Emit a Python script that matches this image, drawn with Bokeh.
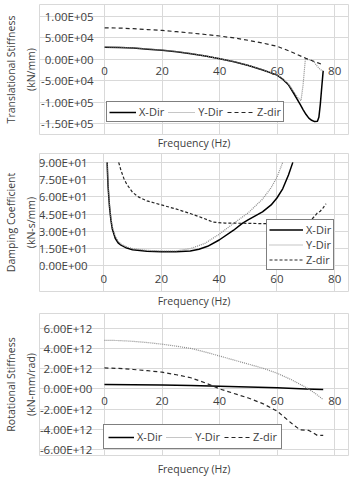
from bokeh.plotting import figure
from bokeh.models import Range1d, FixedTicker, LinearAxis
from bokeh.layouts import column
from bokeh.embed import file_html
from bokeh.resources import INLINE

# ---------------- data ----------------
x_ticks = [0, 20, 40, 60, 80]

# Panel 1: translational stiffness (kN/mm)
ts_y_ticks = [-150000, -100000, -50000, 0, 50000, 100000]
ts_y_labels = ["-1.50E+05", "-1.00E+05", "-5.00E+04", "0.00E+00", "5.00E+04", "1.00E+05"]
ts_x_freq = [0, 5, 10, 15, 20, 25, 30, 35, 40, 45, 50, 55, 60, 62, 64, 66, 68, 69, 70, 71, 72, 73, 74, 74.5, 75, 75.5, 76]
ts_x_val = [28000, 27500, 26000, 23500, 21000, 17500, 13000, 7500, 1000, -6000, -14500, -25000, -37000, -47000, -60000,
            -82000, -105000, -117000, -128000, -137000, -142000, -145000, -144000, -135000, -105000, -65000, -27000]
ts_y_freq = [0, 5, 10, 15, 20, 25, 30, 35, 40, 45, 50, 55, 60, 62, 64, 66, 67.5, 68.3, 69, 69.8, 71, 72, 73, 74, 75, 76]
ts_y_val = [28500, 28000, 26500, 24000, 21500, 18000, 13500, 8000, 1500, -5500, -14000, -24500, -36500, -46000, -58000,
            -78000, -92000, -96000, -60000, 0, -1000, -3000, -8000, -17000, -24000, -27000]
ts_z_freq = [0, 5, 10, 15, 20, 25, 30, 35, 40, 45, 50, 55, 60, 65, 70, 72, 74, 76]
ts_z_val = [73000, 72500, 71000, 69000, 67000, 64000, 61000, 57500, 54000, 49500, 44000, 37500, 30000, 17000, 2000,
            -3000, -8000, -13000]

# Panel 2: damping coefficient (kN-s/mm)
dc_y_ticks = [0, 15, 30, 45, 60, 75, 90]
dc_y_labels = ["0.00E+00", "1.50E+01", "3.00E+01", "4.50E+01", "6.00E+01", "7.50E+01", "9.00E+01"]
dc_x_freq = [1.2, 1.5, 2, 2.5, 3, 4, 5, 6, 8, 10, 15, 20, 25, 30, 33, 36, 40, 45, 48, 50, 55, 58, 60, 62, 64, 65.5]
dc_x_val = [90, 70, 52, 40, 32, 24, 20, 18, 15.5, 14, 12.8, 12.2, 12.2, 13, 14.5, 17, 22.5, 31, 37, 40, 47, 53, 59, 67, 79, 90]
dc_y_freq = [1.2, 1.5, 2, 2.5, 3, 4, 5, 6, 8, 10, 15, 20, 25, 30, 35, 40, 45, 50, 55, 58, 60, 62]
dc_y_val = [90, 72, 54, 42, 34, 26, 21.5, 19, 16.5, 15, 13.5, 13, 13, 15, 19.5, 27.5, 37, 46, 58, 68, 77, 90]
dc_z_freq = [5.2, 6, 7, 8, 10, 12, 15, 20, 25, 30, 35, 38, 42, 50, 60, 68, 70, 71.5, 73, 74, 75, 76, 77]
dc_z_val = [90, 83, 76, 71, 64, 60, 56.5, 53, 49.5, 45.5, 41, 38, 37.2, 37, 36.5, 36.7, 37.5, 39, 43, 46, 47.5, 50.5, 54]

# Panel 3: rotational stiffness (kN-mm/rad)
rs_y_ticks = [-6e12, -4e12, -2e12, 0, 2e12, 4e12, 6e12]
rs_y_labels = ["-6.00E+12", "-4.00E+12", "-2.00E+12", "0.00E+00", "2.00E+12", "4.00E+12", "6.00E+12"]
rs_x_freq = [0, 10, 20, 30, 40, 50, 60, 70, 76]
rs_x_val = [4.3e11, 4.1e11, 3.8e11, 3.3e11, 2.7e11, 2.0e11, 1.1e11, 0.0, -7e10]
rs_y_freq = [0, 5, 10, 15, 20, 25, 30, 35, 40, 45, 50, 55, 60, 65, 70, 73, 76]
rs_y_val = [4.8e12, 4.78e12, 4.7e12, 4.58e12, 4.42e12, 4.22e12, 4.0e12, 3.65e12, 3.25e12, 2.85e12, 2.45e12, 2.05e12,
            1.55e12, 0.9e12, 0.15e12, -0.4e12, -1.05e12]
rs_z_freq = [0, 5, 10, 15, 20, 25, 30, 35, 38, 40, 45, 50, 55, 60, 65, 68, 71, 74, 76]
rs_z_val = [2.07e12, 2.02e12, 1.92e12, 1.8e12, 1.65e12, 1.4e12, 1.1e12, 0.6e12, 0.25e12, 0.0, -0.45e12, -0.9e12,
            -1.45e12, -2.2e12, -3.4e12, -4.05e12, -4.1e12, -4.6e12, -4.6e12]

series_names = ["X-Dir", "Y-Dir", "Z-dir"]
x_title = "Frequency (Hz)"

# ---------------- styling ----------------
FONT = "Open Sans"
TXT = "#404040"
GRID = "#d9d9d9"
FIG_W = 351


def make_panel(height, frame, plot_px, y_data, yticks, ylabels, ytitle, ystand, xstand, xtitle_stand):
    """frame = (left, top, right, bottom) of the chart-area box in figure pixels;
    plot_px = (x_px_at_first_tick, x_px_at_last_tick, y_px_at_top_tick, y_px_at_bottom_tick)."""
    fl, ft, fr, fb = frame
    x0, x80, yt, yb = plot_px
    ylo_d, yhi_d = y_data
    sx = (x80 - x0) / (x_ticks[-1] - x_ticks[0])
    sy = (yt - yb) / (yhi_d - ylo_d)  # negative px per unit (screen y grows down)
    x_range = Range1d(x_ticks[0] - (x0 - fl) / sx, x_ticks[-1] + (fr - x80) / sx)
    y_range = Range1d(ylo_d + (fb - yb) / sy, yhi_d + (ft - yt) / sy)
    p = figure(width=FIG_W, height=height, x_range=x_range, y_range=y_range,
               output_backend="svg", toolbar_location=None,
               min_border_left=fl, min_border_right=FIG_W - fr, min_border_top=ft,
               min_border_bottom=height - fb)
    p.outline_line_color = GRID
    p.outline_line_width = 1
    p.background_fill_color = "white"
    p.border_fill_color = "white"

    xa = p.below[0]
    ya = p.left[0]
    xa.ticker = FixedTicker(ticks=x_ticks)
    ya.ticker = FixedTicker(ticks=yticks)
    ya.major_label_overrides = {float(t): l for t, l in zip(yticks, ylabels)}
    for ax in (xa, ya):
        ax.axis_line_color = None
        ax.major_tick_line_color = None
        ax.minor_tick_line_color = None
        ax.major_tick_out = 0
        ax.major_tick_in = 0
        ax.major_label_text_font = FONT
        ax.major_label_text_font_size = "11.5px"
        ax.major_label_text_color = TXT
    ya.major_label_standoff = ystand
    xa.major_label_standoff = xstand
    ya.fixed_location = 0
    xa.fixed_location = 0

    def title_axis(label, standoff, lh):
        return LinearAxis(ticker=FixedTicker(ticks=[]), axis_label=label,
                          axis_line_color=None, major_tick_line_color=None, minor_tick_line_color=None,
                          major_tick_out=0, major_tick_in=0, major_label_text_font_size="0px",
                          major_label_standoff=0, axis_label_standoff=standoff,
                          axis_label_text_font=FONT, axis_label_text_font_size="10.5px",
                          axis_label_text_font_style="normal", axis_label_text_color=TXT,
                          axis_label_text_line_height=lh)

    p.add_layout(title_axis(ytitle, 2, 1.4), "left")
    p.add_layout(title_axis(x_title, xtitle_stand, 1.2), "below")

    p.xgrid.grid_line_color = GRID
    p.ygrid.grid_line_color = GRID
    p.xgrid.ticker = FixedTicker(ticks=x_ticks)
    p.ygrid.ticker = FixedTicker(ticks=yticks)
    p.xgrid.bounds = (ylo_d, yhi_d)
    p.ygrid.bounds = (x_ticks[0], x_ticks[-1])
    return p


def style_legend(p, loc, orientation, gw, pad, lh, spacing):
    lg = p.legend[0]
    lg.location = loc
    lg.orientation = orientation
    lg.glyph_width = gw
    lg.glyph_height = lh
    lg.label_height = lh
    lg.label_standoff = 3
    lg.padding = pad
    lg.spacing = spacing
    lg.margin = 0
    lg.border_line_color = "black"
    lg.border_line_width = 1
    lg.background_fill_color = "white"
    lg.background_fill_alpha = 1
    lg.label_text_font = FONT
    lg.label_text_font_size = "11px"
    lg.label_text_color = TXT


def add_lines(p, xs, ys, z_dash):
    p.line(xs[0], ys[0], line_color="black", line_width=1.5, legend_label=series_names[0])
    p.line(xs[1], ys[1], line_color="#8c8c8c", line_width=1.2, line_dash="1 1", legend_label=series_names[1])
    p.line(xs[2], ys[2], line_color="#262626", line_width=1.2, line_dash=z_dash, legend_label=series_names[2])


# ---------- Panel 1 ----------
p1 = make_panel(152, (35, 4, 348, 137), (101, 334, 16, 126), (-150000, 100000),
                ts_y_ticks, ts_y_labels, "Translational Stiffness\n(kN/mm)", 11, 8, 1)
add_lines(p1, (ts_x_freq, ts_y_freq, ts_z_freq), (ts_x_val, ts_y_val, ts_z_val), "4 3")
style_legend(p1, (67, 12), "horizontal", 27, 2, 14, 4)

# ---------- Panel 2 ----------
p2 = make_panel(158, (35, 1, 348, 141), (100, 334, 10, 115), (0, 90),
                dc_y_ticks, dc_y_labels, "Damping Coefficient\n(kN-s/mm)", 16, 9, 2)
add_lines(p2, (dc_x_freq, dc_y_freq, dc_z_freq), (dc_x_val, dc_y_val, dc_z_val), "3 2")
style_legend(p2, (227, 21), "vertical", 34, 2, 13, -1)

# ---------- Panel 3 ----------
p3 = make_panel(168, (34, 3, 348, 148), (100, 334, 18, 142), (-6e12, 6e12),
                rs_y_ticks, rs_y_labels, "Rotational Stiffness\n(kN-mm/rad)", 12, 8, 6)
add_lines(p3, (rs_x_freq, rs_y_freq, rs_z_freq), (rs_x_val, rs_y_val, rs_z_val), "4 3")
style_legend(p3, (64, 6), "horizontal", 26, 4, 14, 4)

layout = column(p1, p2, p3, spacing=0)
open("out.html", "w").write(file_html(layout, INLINE))
